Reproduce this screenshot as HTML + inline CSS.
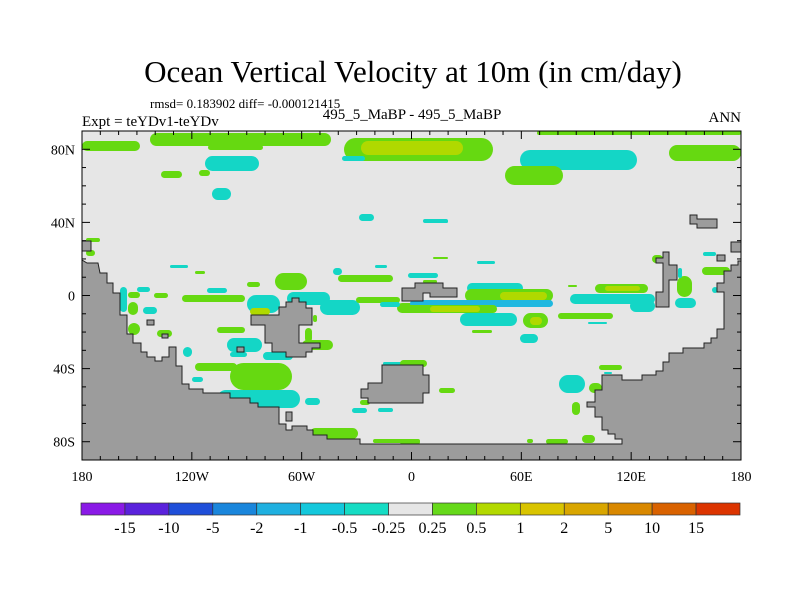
<!DOCTYPE html>
<html><head><meta charset="utf-8"><style>
html,body{margin:0;padding:0;background:#fff;}
svg{display:block;}
text{font-family:"Liberation Serif",serif;fill:#000;}
</style></head><body>
<svg id="chart" width="800" height="600" viewBox="0 0 800 600">
<text x="413" y="82" font-size="31" text-anchor="middle">Ocean Vertical Velocity at 10m (in cm/day)</text>
<text x="150" y="108" font-size="13">rmsd= 0.183902 diff= -0.000121415</text>
<text x="82" y="126" font-size="15">Expt = teYDv1-teYDv</text>
<text x="412" y="119" font-size="15" text-anchor="middle">495_5_MaBP - 495_5_MaBP</text>
<text x="741" y="122" font-size="15" text-anchor="end">ANN</text>
<rect x="82" y="131" width="659" height="329" fill="#e6e6e6"/>
<g id="patches"></g>
<g id="land" fill="#9c9c9c" stroke="#222" stroke-width="1">
<polygon points="82,260 87,263 98,263 100,273 107,273 107,283 113,283 113,293 120,293 120,315 127,315 127,334 133,334 133,343 141,343 141,352 147,352 147,357 155,357 155,361 162,361 162,357 169,357 169,347 176,347 176,366 182,366 182,384 189,384 189,389 203,389 203,393 230,393 230,398 250,398 250,403 258,403 258,407 279,407 279,424 286,424 286,430 292,430 292,426 307,426 307,430 313,430 313,435 327,435 327,439 360,439 360,444 622,444 622,439 615,439 615,434 608,434 608,430 602,430 602,417 595,417 595,407 587,407 587,402 595,402 595,390 602,390 602,375 622,375 622,380 642,380 642,375 656,375 656,371 663,371 663,362 669,362 669,353 683,353 683,348 704,348 704,343 711,343 711,338 717,338 717,329 724,329 724,292 717,292 717,283 724,283 724,271 731,271 731,265 738,265 738,261 741,261 741,460 82,460"/>
<polygon points="251,315 279,315 279,307 286,307 286,302 292,302 292,298 299,298 299,302 306,302 306,308 312,308 312,325 299,325 299,343 320,343 320,348 312,348 312,352 306,352 306,357 286,357 286,352 272,352 272,343 265,343 265,325 251,325"/>
<polygon points="402,288 415,288 415,283 443,283 443,288 457,288 457,297 430,297 430,293 423,293 423,301 402,301"/>
<polygon points="382,365 423,365 423,375 429,375 429,393 423,393 423,403 368,403 368,398 361,398 361,389 368,389 368,383 382,383"/>
<polygon points="690,215 697,215 697,219 717,219 717,228 697,228 697,224 690,224"/>
<polygon points="663,252 669,252 669,265 677,265 677,280 669,280 669,307 656,307 656,292 663,292 663,263 656,263 656,258 663,258"/>
<rect x="717" y="255" width="8" height="6"/>
<rect x="731" y="242" width="10" height="10"/>
<rect x="82" y="241" width="9" height="10"/>
<rect x="147" y="320" width="7" height="5"/>
<rect x="162" y="334" width="6" height="4"/>
<rect x="237" y="347" width="7" height="5"/>
<rect x="286" y="412" width="6" height="9"/>
</g>
<rect x="82" y="131" width="659" height="329" fill="none" stroke="#000" stroke-width="1"/>
<g id="axes"></g>
<g id="colorbar"></g>
</svg>
<script>
var NS='http://www.w3.org/2000/svg';
var G='#66d911',Y='#b0d900',C='#14d6c6',B='#1fb8e0';
// contour patches: [x1,y1,x2,y2,color]
var patches=[
[82,141,140,151,G],[150,133,331,146,G],[208,145,263,150,G],[344,138,493,161,G],[361,141,463,155,Y],
[205,156,259,171,C],[342,156,365,161,C],[520,150,637,170,C],[505,166,563,185,G],[669,145,741,161,G],
[537,131,741,135,G],[161,171,182,178,G],[199,170,210,176,G],[212,188,231,200,C],[359,214,374,221,C],
[425,220,448,223,C],[423,219,448,223,C],[433,257,448,259,G],[477,261,495,264,C],[703,252,716,256,C],
[86,238,100,242,G],[86,250,95,256,G],[170,265,188,268,C],[195,271,205,274,G],[375,265,387,268,C],
[275,273,307,290,G],[247,282,260,287,G],[333,268,342,275,C],[338,275,393,282,G],[287,292,330,305,C],
[320,300,360,315,C],[182,295,245,302,G],[207,288,227,293,C],[247,295,280,313,C],[120,287,127,312,C],
[128,292,140,298,G],[128,302,138,315,G],[143,307,157,314,C],[154,293,168,298,G],[137,287,150,292,C],
[250,308,270,315,Y],[128,323,140,335,G],[157,330,172,337,G],[217,327,245,333,G],[227,338,262,352,C],
[230,352,247,357,C],[263,352,293,360,C],[183,347,192,357,C],[195,363,237,371,G],[230,363,292,390,G],
[192,377,203,382,C],[217,390,300,408,C],[305,398,320,405,C],[302,340,333,350,G],[305,328,312,342,G],
[313,315,317,322,G],[352,408,367,413,C],[378,408,393,412,C],[360,400,370,405,G],[310,428,358,439,G],
[373,439,420,443,G],[356,297,400,303,G],[397,303,420,313,G],[380,302,400,307,C],[410,275,420,278,C],
[383,362,420,365,C],[408,273,438,278,C],[423,280,437,283,G],[467,283,523,293,C],[465,289,553,302,G],
[500,292,547,300,Y],[410,300,553,307,B],[400,305,497,313,G],[430,306,480,312,Y],[460,313,517,326,C],
[523,313,548,328,G],[530,317,542,325,Y],[472,330,492,333,G],[520,334,538,343,C],[558,313,613,319,G],
[588,322,607,324,C],[570,294,655,304,C],[630,300,655,312,C],[595,284,648,293,G],[605,286,640,291,Y],
[568,285,577,287,G],[712,287,718,293,C],[702,267,730,275,G],[677,276,692,297,G],[675,298,696,308,C],
[678,268,682,278,C],[652,255,663,263,G],[400,360,427,367,G],[439,388,455,393,G],[559,375,585,393,C],
[589,383,602,393,G],[599,365,622,370,G],[604,372,612,374,C],[572,402,580,415,G],[582,435,595,443,G],
[546,439,568,444,G],[400,440,420,444,G],[527,439,533,443,G],[82,280,88,290,C]
];
var pg=document.getElementById('patches');
patches.forEach(function(p){
  var el=document.createElementNS(NS,'rect');
  var w=p[2]-p[0],h=p[3]-p[1],r=Math.min(w,h)/2;
  el.setAttribute('x',p[0]);el.setAttribute('y',p[1]);el.setAttribute('width',w);el.setAttribute('height',h);
  el.setAttribute('rx',Math.min(r,w/2));el.setAttribute('ry',r);el.setAttribute('fill',p[4]);
  
  
  pg.appendChild(el);
});
// axes
var lonTicks=[-180,-120,-60,0,60,120,180];
var lonLabels=['180','120W','60W','0','60E','120E','180'];
var latTicks=[80,40,0,-40,-80];
var latLabels=['80N','40N','0','40S','80S'];
var X0=82,X1=741,Y0=131,Y1=460;
function xs(lon){return X0+(lon+180)/360*(X1-X0);}
function ys(lat){return Y0+(90-lat)/180*(Y1-Y0);}
var ag=document.getElementById('axes');
function line(x1,y1,x2,y2,name){var l=document.createElementNS(NS,'line');l.setAttribute('x1',x1);l.setAttribute('y1',y1);l.setAttribute('x2',x2);l.setAttribute('y2',y2);l.setAttribute('stroke','#000');l.setAttribute('stroke-width','1');


ag.appendChild(l);}
for(var lon=-180;lon<=180;lon+=10){var x=xs(lon),L=(lon%60===0)?8:4;line(x,Y1,x,Y1-L,'x-tick');line(x,Y0,x,Y0+L,'x-tick');}
for(var lat=-90;lat<=90;lat+=10){var y=ys(lat),L2=(lat%40===0)?8:4;line(X0,y,X0+L2,y,'y-tick');line(X1,y,X1-L2,y,'y-tick');}
lonTicks.forEach(function(v,i){var t=document.createElementNS(NS,'text');t.setAttribute('x',xs(v));t.setAttribute('y',481);t.setAttribute('font-size','14');t.setAttribute('text-anchor','middle');t.textContent=lonLabels[i];


ag.appendChild(t);});
latTicks.forEach(function(v,i){var t=document.createElementNS(NS,'text');t.setAttribute('x',75);t.setAttribute('y',ys(v)+5);t.setAttribute('font-size','14');t.setAttribute('text-anchor','end');t.textContent=latLabels[i];


ag.appendChild(t);});
// colorbar
var cbColors=['#8a1ae6','#5a22dc','#1f4fd9','#1a86dc','#1fb0e0','#14c8dc','#16dcc4','#e6e6e6','#66d91a','#b3d900','#d9c400','#d9a600','#d98800','#d96200','#dc3400'];
var cbLabels=['-15','-10','-5','-2','-1','-0.5','-0.25','0.25','0.5','1','2','5','10','15'];
var cg=document.getElementById('colorbar');
var CB0=81,CB1=740,bw=(CB1-CB0)/cbColors.length;
cbColors.forEach(function(c,i){var r=document.createElementNS(NS,'rect');r.setAttribute('x',CB0+i*bw);r.setAttribute('y',503);r.setAttribute('width',bw);r.setAttribute('height',12);r.setAttribute('fill',c);r.setAttribute('stroke','#333');r.setAttribute('stroke-width','0.7');


cg.appendChild(r);});
cbLabels.forEach(function(s,i){var t=document.createElementNS(NS,'text');t.setAttribute('x',CB0+(i+1)*bw);t.setAttribute('y',533);t.setAttribute('font-size','16');t.setAttribute('text-anchor','middle');t.textContent=s;


cg.appendChild(t);});
</script>
</body></html>
